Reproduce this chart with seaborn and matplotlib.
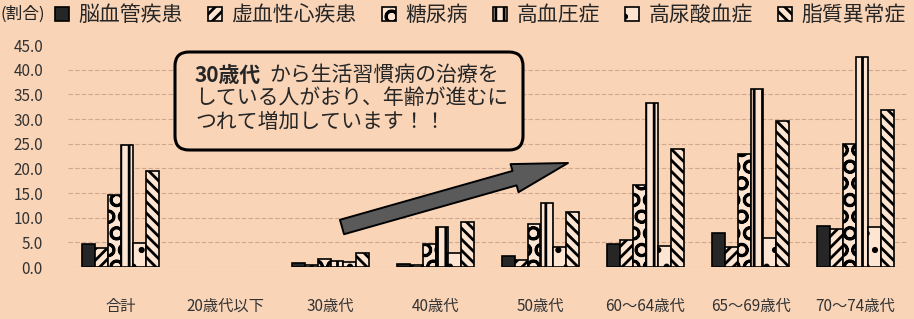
import numpy as np
import pandas as pd
import matplotlib
matplotlib.use('Agg')
import matplotlib.pyplot as plt
import matplotlib.patches as mpatches
from matplotlib.patches import FancyBboxPatch
from matplotlib.text import Annotation
import seaborn as sns

categories = ['合計', '20歳代以下', '30歳代', '40歳代', '50歳代',
              '60～64歳代', '65～69歳代', '70～74歳代']
series = ['脳血管疾患', '虚血性心疾患', '糖尿病', '高血圧症', '高尿酸血症', '脂質異常症']
cerebro = [4.6, 0.0, 0.8, 0.7, 2.3, 4.7, 6.8, 8.4]
ischemic = [3.9, 0.0, 0.4, 0.4, 1.5, 5.5, 4.0, 7.7]
diabetes = [14.6, 0.0, 1.7, 4.7, 8.8, 16.6, 23.0, 24.9]
hypertension = [24.8, 0.0, 1.2, 8.2, 12.9, 33.3, 36.0, 42.6]
hyperuricemia = [4.8, 0.0, 1.0, 2.8, 4.1, 4.2, 5.9, 8.2]
dyslipidemia = [19.4, 0.0, 2.9, 9.2, 11.1, 24.0, 29.6, 31.8]
yticks = [0, 5, 10, 15, 20, 25, 30, 35, 40, 45]
unit_label = '(割合)'
note_bold = '30歳代'
note_line1 = 'から生活習慣病の治療を'
note_line2 = 'している人がおり、年齢が進むに'
note_line3 = 'つれて増加しています！！'

values = [cerebro, ischemic, diabetes, hypertension, hyperuricemia, dyslipidemia]
rows = []
for s, vals in zip(series, values):
    for c, v in zip(categories, vals):
        rows.append({'age': c, 'disease': s, 'value': v})
df = pd.DataFrame(rows)

sns.set_style('white')
plt.rcParams['font.family'] = ['Noto Sans CJK JP', 'DejaVu Sans']
plt.rcParams['hatch.linewidth'] = 2.0
plt.rcParams['hatch.color'] = 'black'

BG = '#f9d4b7'
BARBG = '#fde5d2'
W, H, DPI = 914, 319, 100
fig = plt.figure(figsize=(W / DPI, H / DPI), dpi=DPI)
fig.patch.set_facecolor(BG)
ax = fig.add_axes([68 / W, (H - 267) / H, 840 / W, 222 / H])
ax.set_facecolor(BG)

sns.barplot(data=df, x='age', y='value', hue='disease', order=categories,
            hue_order=series, width=0.74, legend=False, ax=ax, saturation=1,
            edgecolor='black', linewidth=1.2, errorbar=None)

styles = [
    dict(fc='#262626', hatch=None),
    dict(fc=BARBG, hatch='///'),
    dict(fc=BARBG, hatch='O'),
    dict(fc=BARBG, hatch='||'),
    dict(fc=BARBG, hatch='.'),
    dict(fc=BARBG, hatch='\\\\\\'),
]
for cont, st in zip(ax.containers, styles):
    for p in cont.patches:
        p.set_facecolor(st['fc'])
        p.set_edgecolor('black')
        if st['hatch']:
            p.set_hatch(st['hatch'])
        if p.get_height() == 0:
            p.set_visible(False)

ax.set_ylim(0, 45)
ax.set_xlim(-0.5, len(categories) - 0.5)
ax.set_yticks(yticks)
ax.set_yticklabels([f'{t:.1f}' for t in yticks])
ax.set_xlabel('')
ax.set_ylabel('')
for s in ax.spines.values():
    s.set_visible(False)
ax.tick_params(axis='y', length=0, pad=18, labelsize=11, labelcolor='#333333')
ax.tick_params(axis='x', length=0, pad=22, labelsize=11, labelcolor='#333333')
ax.set_axisbelow(True)
ax.yaxis.grid(True, color='#cfa88f', linewidth=0.8, linestyle=(0, (4, 2)))
ax.get_ygridlines()[-1].set_visible(False)

# legend
handles = []
for s, st in zip(series, styles):
    handles.append(mpatches.Patch(facecolor=st['fc'], edgecolor='black',
                                  hatch=st['hatch'], linewidth=1.2, label=s))
fig.legend(handles=handles, loc='center left', bbox_to_anchor=(55 / W, 1 - 15 / H),
           ncol=6, frameon=False, fontsize=15, handlelength=0.68, handleheight=0.68,
           handletextpad=0.45, columnspacing=1.2, borderpad=0, borderaxespad=0)
fig.text(1 / W, 1 - 14 / H, unit_label, fontsize=12, va='center', ha='left', color='#222222')

# annotation box
inch = fig.dpi_scale_trans
box = FancyBboxPatch((175 / DPI, (H - 150) / DPI), (523 - 175) / DPI, (150 - 52) / DPI,
                     boxstyle='round,pad=0,rounding_size=0.14', transform=inch,
                     facecolor=BG, edgecolor='black', linewidth=2.2, zorder=5)
fig.add_artist(box)
t1 = fig.text(195 / DPI, (H - 75) / DPI, note_bold, transform=inch, fontsize=15,
              fontweight='bold', va='center', ha='left', zorder=6)
a1 = Annotation(note_line1, xy=(1, 0.5), xycoords=t1, xytext=(6, 0),
                textcoords='offset points', fontsize=15, va='center', ha='left',
                annotation_clip=False, zorder=6)
fig.add_artist(a1)
fig.text(195 / DPI, (H - 98.5) / DPI, note_line2, transform=inch, fontsize=15,
         va='center', ha='left', zorder=6)
fig.text(195 / DPI, (H - 122) / DPI, note_line3, transform=inch, fontsize=15,
         va='center', ha='left', zorder=6)

# arrow
ax.annotate('', xy=(568 / DPI, (H - 163) / DPI), xycoords=inch,
            xytext=(342 / DPI, (H - 227) / DPI), textcoords=inch,
            arrowprops=dict(arrowstyle='simple,head_length=4.0,head_width=2.1,tail_width=1.08',
                            mutation_scale=10, facecolor='#5a5a5a', edgecolor='black',
                            linewidth=1.4, shrinkA=0, shrinkB=0),
            annotation_clip=False)

fig.savefig('out.png', dpi=DPI, facecolor=BG)
